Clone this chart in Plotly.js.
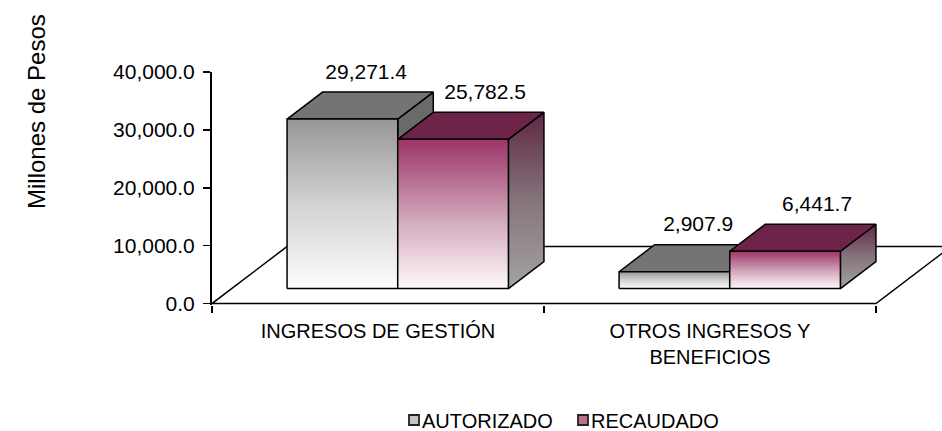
<!DOCTYPE html>
<html><head><meta charset="utf-8">
<script src="https://cdn.plot.ly/plotly-3.0.1.min.js"></script>
<style>html,body{margin:0;padding:0;background:#fff}#chart{width:942px;height:431px}</style>
</head><body><div id="chart"></div>
<script>
// ---- data ----
const categories = ['INGRESOS DE GESTIÓN', 'OTROS INGRESOS Y<br>BENEFICIOS'];
const seriesNames = ['AUTORIZADO', 'RECAUDADO'];
const autorizado = [29271.4, 2907.9];
const recaudado = [25782.5, 6441.7];
const yTickVals = [0, 10000, 20000, 30000, 40000];
const yTitle = 'Millones de Pesos';

// ---- geometry / style ----
const W = 942, H = 431, L = 212, T = 72, B = 126, R = 0;
const plotW = W - L - R, plotH = H - T - B;
const pxPerCat = 332;
const xMin = -0.5, xMax = xMin + plotW / pxPerCat;
const yMin = -250, yMax = 40000;
const pxPerVal = plotH / (yMax - yMin);
const DX = 75 / pxPerCat;          // depth offset (category units)
const DY = 57 / pxPerVal;          // depth offset (value units)
const DF = 0.263, DB = 0.737;      // bar front / back depth
const BW = 1 / 3;                  // bar width

const styles = [
  { front: [[0, '#fdfdfd'], [0.5, '#d2d2d2'], [1, '#979797']],
    top: '#747474',
    side: [[0, '#6a6a6a'], [1, '#6a6a6a']],
    lblDepth: 0.58 },
  { front: [[0, '#fef9fb'], [0.45, '#d3aabd'], [1, '#9c3467']],
    top: '#6e2349',
    side: [[0, '#a3a3a3'], [0.5, '#85747c'], [1, '#5f2843']],
    lblDepth: 0.69 }
];

function P(x, v, d) { return [x + d * DX, v + d * DY]; }
function polyTrace(pts, fill) {
  const xs = pts.map(p => p[0]).concat([pts[0][0]]);
  const ys = pts.map(p => p[1]).concat([pts[0][1]]);
  const t = { type: 'scatter', mode: 'lines', x: xs, y: ys, fill: 'toself',
    line: { color: '#000', width: 1.5 }, hoverinfo: 'skip', showlegend: false };
  if (typeof fill === 'string') t.fillcolor = fill;
  else { t.fillcolor = 'rgba(0,0,0,0)'; t.fillgradient = { type: 'vertical', colorscale: fill }; }
  return t;
}

const traces = [];
// floor
traces.push(polyTrace([P(-0.5, 0, 0), P(1.5, 0, 0), P(1.5, 0, 1), P(-0.5, 0, 1)], '#ffffff'));

const series = [autorizado, recaudado];
const lblX = [], lblY = [], lblV = [];
categories.forEach((c, i) => {
  series.forEach((vals, s) => {
    const v = vals[i];
    const x0 = i - BW + s * BW, x1 = x0 + BW;
    const st = styles[s];
    traces.push(polyTrace([P(x1, 0, DF), P(x1, 0, DB), P(x1, v, DB), P(x1, v, DF)], st.side));
    traces.push(polyTrace([P(x0, v, DF), P(x1, v, DF), P(x1, v, DB), P(x0, v, DB)], st.top));
    traces.push(polyTrace([P(x0, 0, DF), P(x1, 0, DF), P(x1, v, DF), P(x0, v, DF)], st.front));
    lblX.push((x0 + x1) / 2 + st.lblDepth * DX);
    lblY.push(v + DB * DY + 8 / pxPerVal);
    lblV.push(v);
  });
});
traces.push({ type: 'scatter', mode: 'text', x: lblX, y: lblY, customdata: lblV,
  texttemplate: '%{customdata:,.1f}', textposition: 'top center',
  textfont: { size: 21, color: '#000' }, cliponaxis: false, hoverinfo: 'skip', showlegend: false });

const pxX = px => (px - L) / plotW;
const pxY = py => (H - B - py) / plotH;

const legendSw = [['#c4c4c4', 409], ['#b7728f', 578]];
const shapes = legendSw.map(([col, x]) => ({ type: 'rect', xref: 'paper', yref: 'paper',
  x0: pxX(x), x1: pxX(x + 10), y0: pxY(425), y1: pxY(415),
  fillcolor: col, line: { color: '#222', width: 1.8 } }));

const annotations = [
  { text: yTitle, xref: 'paper', yref: 'paper', x: pxX(36), y: pxY(112), textangle: -90,
    showarrow: false, xanchor: 'center', yanchor: 'middle', font: { size: 24, color: '#000' } },
  ...seriesNames.map((n, k) => ({ text: n, xref: 'paper', yref: 'paper',
    x: pxX(legendSw[k][1] + 11), y: pxY(421), xanchor: 'left', yanchor: 'middle',
    showarrow: false, font: { size: 20, color: '#000' } }))
];

const layout = {
  width: W, height: H, margin: { l: L, r: R, t: T, b: B, pad: 0 },
  paper_bgcolor: '#fff', plot_bgcolor: 'rgba(0,0,0,0)', showlegend: false,
  font: { family: 'Liberation Sans, Arial, sans-serif', color: '#000' },
  xaxis: { range: [xMin, xMax], tickmode: 'array', tickvals: categories.map((c, i) => i),
    ticktext: categories, ticks: '', showline: false, showgrid: false, zeroline: false,
    tickfont: { size: 20 }, ticklabelstandoff: 12,
    minor: { tickmode: 'array', tickvals: [-0.5, 0.5, 1.5], ticks: 'outside', ticklen: 7,
      tickwidth: 1.5, tickcolor: '#000', showgrid: false }, fixedrange: true },
  yaxis: { range: [yMin, yMax], tickmode: 'array', tickvals: yTickVals, tickformat: ',.1f',
    ticks: 'outside', ticklen: 7, tickwidth: 1.5, tickcolor: '#000', showline: true,
    linewidth: 2, linecolor: '#000', showgrid: false, zeroline: false,
    tickfont: { size: 21 }, ticklabelstandoff: 4, fixedrange: true },
  shapes, annotations
};
Plotly.newPlot('chart', traces, layout, { displayModeBar: false, staticPlot: true });
</script></body></html>
